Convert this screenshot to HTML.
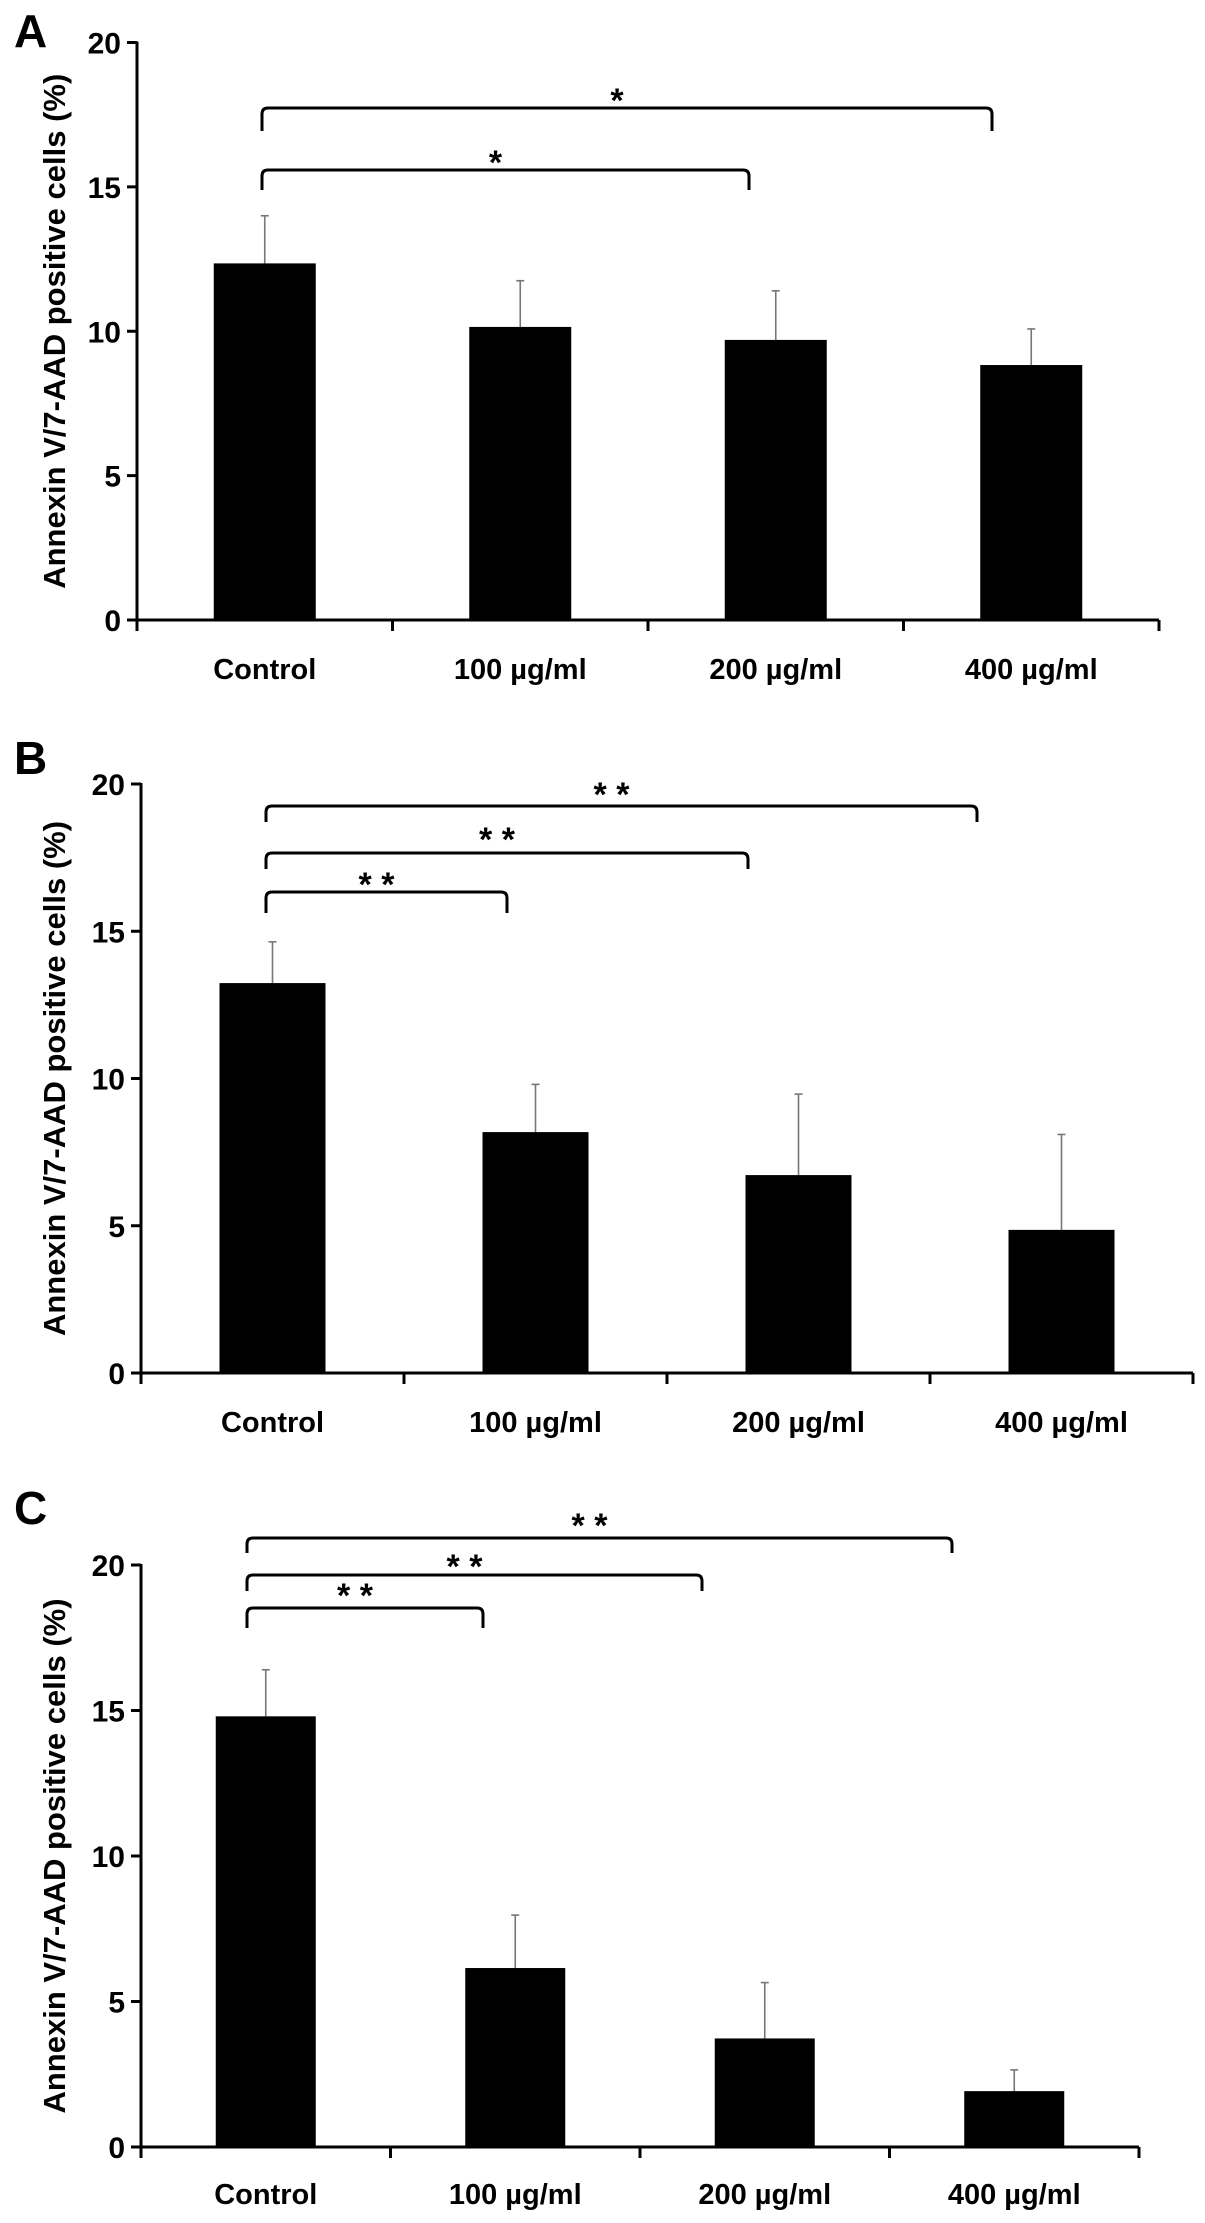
<!DOCTYPE html>
<html><head><meta charset="utf-8"><style>
html,body{margin:0;padding:0;background:#fff;}
svg{display:block;}
text{font-family:"Liberation Sans",Arial,sans-serif;font-weight:bold;fill:#000;}
</style></head>
<body>
<svg id="fig" width="1205" height="2223" viewBox="0 0 1205 2223" xmlns="http://www.w3.org/2000/svg"></svg>
<script>
const categories = ["Control", "100 \u00b5g/ml", "200 \u00b5g/ml", "400 \u00b5g/ml"];
const yTicks = [0, 5, 10, 15, 20];
const meansA = [12.35, 10.15, 9.7, 8.83];
const errorsA = [1.65, 1.6, 1.7, 1.25];
const meansB = [13.24, 8.18, 6.72, 4.86];
const errorsB = [1.4, 1.62, 2.75, 3.24];
const meansC = [14.8, 6.15, 3.73, 1.92];
const errorsC = [1.6, 1.82, 1.92, 0.73];
const compsA = [[0, 3, "*"], [0, 2, "*"]];
const compsB = [[0, 3, "* *"], [0, 2, "* *"], [0, 1, "* *"]];
const compsC = [[0, 3, "* *"], [0, 2, "* *"], [0, 1, "* *"]];

const svg = document.getElementById('fig');
const NS = 'http://www.w3.org/2000/svg';
function mk(tag, attrs, parent) {
  const e = document.createElementNS(NS, tag);
  for (const k in attrs) e.setAttribute(k, attrs[k]);
  parent.appendChild(e);
  return e;
}

// layout: pixel geometry of each panel
const panels = [
  {id:'a', letter:'A', means:meansA, errs:errorsA, comps:compsA,
   x0:137, x1:1159, y0:620, y20:42.5, barW:102, labelY:679, letterY:47, titleX:54,
   brackets:[{y:108, x0:262, x1:992, drop:23, sy:112},{y:170, x0:262, x1:749, drop:20, sy:174}]},
  {id:'b', letter:'B', means:meansB, errs:errorsB, comps:compsB,
   x0:141, x1:1193, y0:1373, y20:784, barW:106, labelY:1432, letterY:774, titleX:54,
   brackets:[{y:806, x0:266, x1:977, drop:16, sy:806},{y:853, x0:266, x1:748, drop:16, sy:851},{y:892, x0:266, x1:507, drop:21, sy:896}]},
  {id:'c', letter:'C', means:meansC, errs:errorsC, comps:compsC,
   x0:141, x1:1139, y0:2147, y20:1565, barW:100, labelY:2204, letterY:1524, titleX:54,
   brackets:[{y:1538, x0:247, x1:952, drop:15, sy:1537},{y:1575, x0:247, x1:702, drop:16, sy:1578},{y:1608, x0:247, x1:483, drop:20, sy:1607}]}
];

panels.forEach(p => {
  const g = mk('g', {}, svg);
  
  
  const yScale = v => p.y0 - (p.y0 - p.y20) * v / 20;
  const slot = (p.x1 - p.x0) / categories.length;
  const xCenter = i => p.x0 + slot * (i + 0.5);

  const letter = mk('text', {x:14, y:p.letterY, 'font-size':46}, g);
  letter.textContent = p.letter;
  
  

  const title = mk('text', {x:0, y:0, 'font-size':31, 'text-anchor':'middle',
    transform:`translate(${p.titleX + 11},${(p.y0 + p.y20) / 2}) rotate(-90)`}, g);
  title.textContent = 'Annexin V/7-AAD positive cells (%)';
  
  

  // bars + error bars
  p.means.forEach((m, i) => {
    const cx = xCenter(i);
    const eTop = yScale(m + p.errs[i]);
    const err = mk('line', {x1:cx, x2:cx, y1:yScale(m), y2:eTop, stroke:'#777', 'stroke-width':1.6}, g);
    
    
    const cap = mk('line', {x1:cx - 4, x2:cx + 4, y1:eTop, y2:eTop, stroke:'#777', 'stroke-width':1.6}, g);
    
    
    const bar = mk('rect', {x:cx - p.barW / 2, y:yScale(m), width:p.barW, height:p.y0 - yScale(m), fill:'#000'}, g);
    
    
    const lbl = mk('text', {x:cx, y:p.labelY, 'font-size':29, 'text-anchor':'middle'}, g);
    lbl.textContent = categories[i];
    
    
  });

  // axes
  const yAxis = mk('line', {x1:p.x0, x2:p.x0, y1:p.y20 - 1, y2:p.y0 + 1.5, stroke:'#000', 'stroke-width':3}, g);
  
  
  const xAxis = mk('line', {x1:p.x0, x2:p.x1, y1:p.y0, y2:p.y0, stroke:'#000', 'stroke-width':3}, g);
  
  
  yTicks.forEach(t => {
    const y = yScale(t);
    const tk = mk('line', {x1:p.x0 - 10, x2:p.x0, y1:y, y2:y, stroke:'#000', 'stroke-width':3}, g);
    
    
    const tl = mk('text', {x:p.x0 - 16, y:y + 11, 'font-size':30, 'text-anchor':'end'}, g);
    tl.textContent = t;
    
    
  });
  for (let i = 0; i <= categories.length; i++) {
    const x = p.x0 + slot * i;
    const tk = mk('line', {x1:x, x2:x, y1:p.y0, y2:p.y0 + 11, stroke:'#000', 'stroke-width':3}, g);
    
    
  }

  // significance brackets
  p.comps.forEach((c, k) => {
    const b = p.brackets[k];
    const r = 6;
    const d = `M${b.x0},${b.y + b.drop} L${b.x0},${b.y + r} Q${b.x0},${b.y} ${b.x0 + r},${b.y} L${b.x1 - r},${b.y} Q${b.x1},${b.y} ${b.x1},${b.y + r} L${b.x1},${b.y + b.drop}`;
    const br = mk('path', {d:d, fill:'none', stroke:'#000', 'stroke-width':3}, g);
    
    
    const st = mk('text', {x:(b.x0 + b.x1) / 2 - 10, y:b.sy, 'font-size':34, 'text-anchor':'middle'}, g);
    st.textContent = c[2];
    
    
  });
});
</script>
</body></html>
